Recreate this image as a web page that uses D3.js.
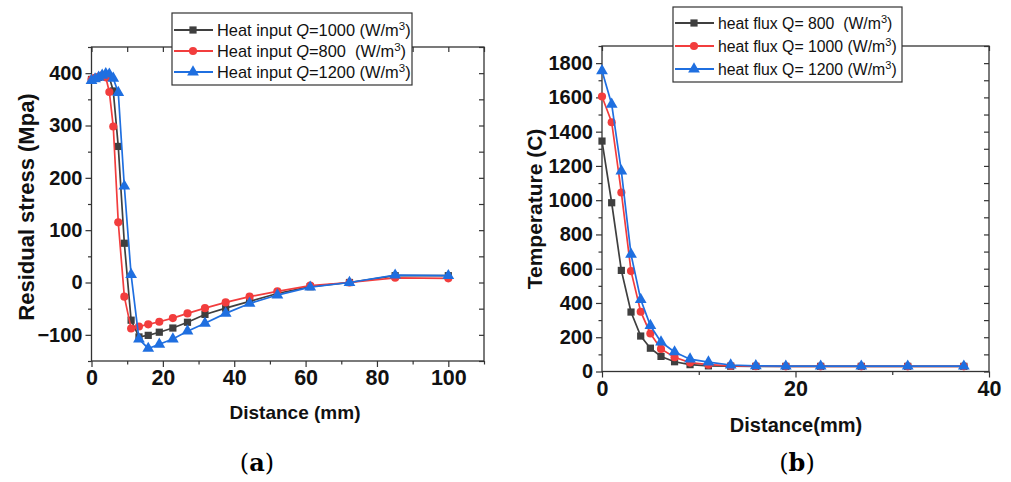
<!DOCTYPE html>
<html lang="en">
<head>
<meta charset="utf-8">
<title>Residual stress and temperature vs distance</title>
<script src="https://cdn.jsdelivr.net/npm/d3@7"></script>
<style>
  body { margin: 0; background: #fff; }
  svg text { font-family: "Liberation Sans", Arial, sans-serif; }
</style>
</head>
<body>
<script>
// ---- data, panel (a) ----
var distA = [0, 1, 2, 3, 4, 5, 6.1, 7.5, 9.2, 11.1, 13.3, 15.9, 19, 22.8, 26.9, 31.8, 37.6, 44.3, 52.1, 61.3, 72.3, 85.1, 100];
var stressQ1000 = [388, 390, 392, 394, 395, 392, 366, 260, 75, -72, -104, -101, -95, -87, -76, -61, -49, -36, -21, -8, 0, 13, 13];
var stressQ800  = [388, 391, 393, 396, 392, 364, 298, 115, -27, -88, -84, -80, -75, -68, -59, -49, -38, -27, -17, -6, 0, 9, 8];
var stressQ1200 = [386, 389, 392, 396, 399, 398, 390, 363, 184, 15, -108, -126, -118, -108, -93, -78, -59, -40, -24, -9, 0, 14, 13];
var ticksAx = [0, 20, 40, 60, 80, 100];
var ticksAy = [-100, 0, 100, 200, 300, 400];

// ---- data, panel (b) ----
var distB = [0, 1, 2, 3, 4, 5, 6.1, 7.5, 9.1, 11, 13.3, 15.9, 19, 22.6, 26.8, 31.6, 37.4];
var tempQ800  = [1345, 985, 590, 347, 207, 136, 88, 57, 40, 33, 31, 30, 30, 30, 30, 30, 30];
var tempQ1000 = [1605, 1455, 1045, 586, 349, 222, 132, 83, 52, 40, 33, 31, 30, 30, 30, 30, 30];
var tempQ1200 = [1755, 1560, 1170, 684, 420, 268, 172, 114, 72, 55, 38, 33, 31, 31, 31, 31, 31];
var ticksBx = [0, 20, 40];
var ticksBy = [0, 200, 400, 600, 800, 1000, 1200, 1400, 1600, 1800];

var black = "#3f3f3f", red = "#f23d3d", blue = "#1f6fe0";

var w = 1011, h = 482;
var svg = d3.select("body").append("svg")
  .attr("width", w).attr("height", h);

function panel(o) {
  var x = d3.scaleLinear().domain(o.xDomain).range([o.left, o.right]);
  var y = d3.scaleLinear().domain(o.yDomain).range([o.bottom, o.top]);
  var g = svg.append("g");

  // frame
  g.append("rect")
    .attr("x", o.left).attr("y", o.top)
    .attr("width", o.right - o.left).attr("height", o.bottom - o.top)
    .attr("fill", "none").attr("stroke", "#333").attr("stroke-width", 1.3);

  function ax(gen, tx, ty, vals, size, labels, fs) {
    var a = g.append("g").attr("transform", "translate(" + tx + "," + ty + ")")
      .call(gen.tickValues(vals).tickSize(size).tickSizeOuter(0).tickPadding(3)
        .tickFormat(labels ? function (d) { return d < 0 ? "\u2212" + (-d) : d; } : ""));
    a.select(".domain").remove();
    a.selectAll("line").attr("stroke", "#333").attr("stroke-width", 1.2);
    a.selectAll("text").attr("font-size", fs).attr("font-weight", "bold")
      .attr("fill", "#111").style("font-family", "Liberation Sans, Arial, sans-serif");
  }
  // bottom & left: outward; top & right: inward
  ax(d3.axisBottom(x), 0, o.bottom, o.xTicks, 6, true, o.xFont);
  ax(d3.axisBottom(x), 0, o.bottom, o.xMinor, 3.5, false);
  ax(d3.axisLeft(y), o.left, 0, o.yTicks, 6, true, o.yFont);
  ax(d3.axisLeft(y), o.left, 0, o.yMinor, 3.5, false);
  ax(d3.axisTop(x), 0, o.top, o.xTicks.concat(o.xMinor), -5, false);
  ax(d3.axisRight(y), o.right, 0, o.yTicks.concat(o.yMinor), -5, false);

  // series
  o.series.forEach(function (s) {
    var pts = o.xs.map(function (d, i) { return [d, s.values[i]]; });
    g.append("path")
      .attr("d", d3.line().x(function (d) { return x(d[0]); }).y(function (d) { return y(d[1]); })(pts))
      .attr("fill", "none").attr("stroke", s.color).attr("stroke-width", 1.7);
    g.selectAll(null).data(pts).enter().append("path")
      .attr("transform", function (d) { return "translate(" + x(d[0]) + "," + y(d[1]) + ")"; })
      .attr("d", d3.symbol().type(s.symbol).size(s.size))
      .attr("fill", s.color);
  });

  // axis titles
  g.append("text")
    .attr("x", o.xTitleMid).attr("y", o.xTitleY)
    .attr("text-anchor", "middle").attr("font-size", o.xTitleFont).attr("font-weight", "bold")
    .attr("fill", "#111").text(o.xTitle);
  g.append("text")
    .attr("transform", "translate(" + o.yTitleX + "," + o.yTitleMid + ") rotate(-90)")
    .attr("text-anchor", "middle").attr("font-size", o.yTitleFont).attr("font-weight", "bold")
    .attr("fill", "#111").text(o.yTitle);

  // sub caption (a)/(b)
  var cap = g.append("text")
    .attr("x", o.capX).attr("y", 471).attr("text-anchor", "middle")
    .attr("font-size", 24).style("font-family", "DejaVu Serif, Liberation Serif, serif");
  cap.append("tspan").text("(");
  cap.append("tspan").attr("font-weight", "bold").text(o.cap);
  cap.append("tspan").text(")");

  // legend
  var L = o.legend;
  var lg = g.append("g");
  lg.append("rect")
    .attr("x", L.x).attr("y", L.y).attr("width", L.w).attr("height", L.h)
    .attr("fill", "#fff").attr("stroke", "#333").attr("stroke-width", 1.2);
  o.series.forEach(function (s, i) {
    var cy = L.y + L.first + i * L.step;
    lg.append("line")
      .attr("x1", L.x + 2).attr("x2", L.x + 41).attr("y1", cy).attr("y2", cy)
      .attr("stroke", s.color).attr("stroke-width", 2);
    lg.append("path")
      .attr("transform", "translate(" + (L.x + 21) + "," + cy + ")")
      .attr("d", d3.symbol().type(s.symbol).size(s.size))
      .attr("fill", s.color);
    var t = lg.append("text")
      .attr("x", L.x + 45).attr("y", cy + 6)
      .attr("font-size", L.font).attr("fill", "#111")
      .attr("xml:space", "preserve");
    t.append("tspan").text(s.pre);
    if (s.italicQ) t.append("tspan").attr("font-style", "italic").text("Q");
    t.append("tspan").text(s.num + "(W/m");
    t.append("tspan").attr("font-size", L.font * 0.7).attr("dy", -6).text("3");
    t.append("tspan").attr("dy", 6).text(")");
  });
}

panel({
  left: 91.5, right: 484, top: 47, bottom: 361,
  xDomain: [0, 110], yDomain: [-150, 450],
  xTicks: ticksAx, xMinor: [10, 30, 50, 70, 90, 110],
  yTicks: ticksAy, yMinor: [-150, -50, 50, 150, 250, 350, 450],
  xFont: 21.5, yFont: 20,
  xs: distA,
  series: [
    { values: stressQ1000, color: black, symbol: d3.symbolSquare, size: 52, pre: "Heat input ", italicQ: true, num: "=1000 " },
    { values: stressQ800, color: red, symbol: d3.symbolCircle, size: 52, pre: "Heat input ", italicQ: true, num: "=800  " },
    { values: stressQ1200, color: blue, symbol: d3.symbolTriangle, size: 60, pre: "Heat input ", italicQ: true, num: "=1200 " }
  ],
  xTitle: "Distance (mm)", xTitleMid: 295, xTitleY: 419, xTitleFont: 19,
  yTitle: "Residual stress (Mpa)", yTitleX: 34, yTitleMid: 207, yTitleFont: 22,
  cap: "a", capX: 257,
  legend: { x: 172, y: 13, w: 240, h: 72, first: 17, step: 21, font: 16.4 }
});

panel({
  left: 602, right: 989, top: 46, bottom: 371.5,
  xDomain: [0, 40], yDomain: [0, 1900],
  xTicks: ticksBx, xMinor: [10, 30],
  yTicks: ticksBy, yMinor: [100, 300, 500, 700, 900, 1100, 1300, 1500, 1700, 1900],
  xFont: 21.5, yFont: 20,
  xs: distB,
  series: [
    { values: tempQ800, color: black, symbol: d3.symbolSquare, size: 52, pre: "heat flux ", italicQ: false, num: "Q= 800  " },
    { values: tempQ1000, color: red, symbol: d3.symbolCircle, size: 52, pre: "heat flux ", italicQ: false, num: "Q= 1000 " },
    { values: tempQ1200, color: blue, symbol: d3.symbolTriangle, size: 60, pre: "heat flux ", italicQ: false, num: "Q= 1200 " }
  ],
  xTitle: "Distance(mm)", xTitleMid: 796, xTitleY: 432, xTitleFont: 20,
  yTitle: "Temperature (C)", yTitleX: 542, yTitleMid: 209, yTitleFont: 21,
  cap: "b", capX: 797,
  legend: { x: 673, y: 7, w: 229, h: 75, first: 16, step: 23, font: 15.8 }
});
</script>
</body>
</html>
